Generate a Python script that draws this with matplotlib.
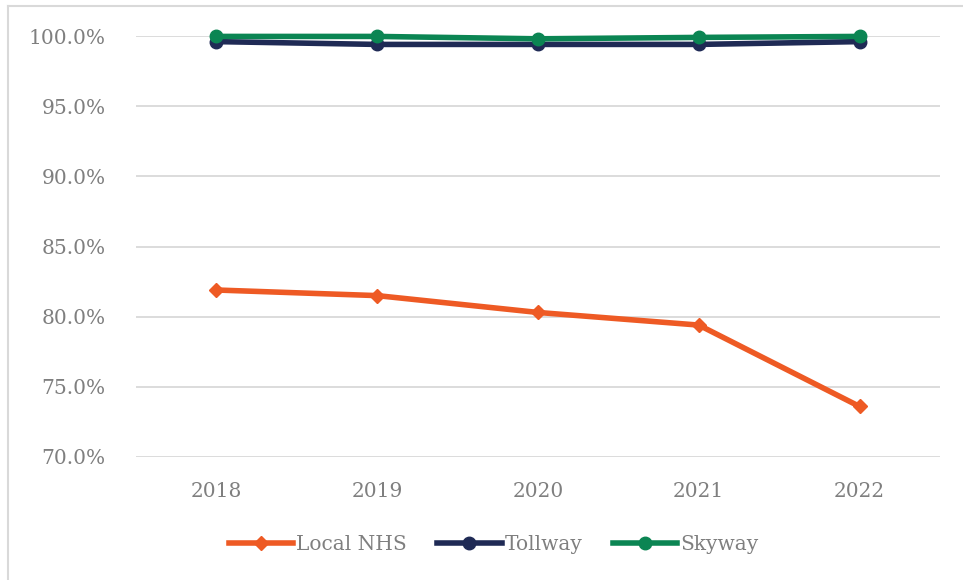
import numpy as np
import matplotlib.pyplot as plt
from matplotlib.lines import Line2D
from matplotlib.ticker import PercentFormatter

years = ['2018', '2019', '2020', '2021', '2022']
local_nhs = [81.9, 81.5, 80.3, 79.4, 73.6]
tollway = [99.6, 99.4, 99.4, 99.4, 99.6]
skyway = [99.97, 99.97, 99.8, 99.9, 99.97]

plt.rcParams['font.family'] = ['DejaVu Serif']

fig = plt.figure(figsize=(9.63, 5.8), dpi=100)
ax = fig.add_axes([136/963, 1-457/580, (940-136)/963, (457-36)/580])

x = np.arange(len(years))
ax.plot(x, local_nhs, '-D', color='#EE5A24', lw=4, ms=7.5, label='Local NHS', clip_on=False, zorder=3)
ax.plot(x, tollway, '-o', color='#1F2A55', lw=4, ms=9, label='Tollway', clip_on=False, zorder=4)
ax.plot(x, skyway, '-o', color='#0B8553', lw=4, ms=9, label='Skyway', clip_on=False, zorder=5)

ax.set_xlim(-0.5, 4.5)
ax.set_ylim(70, 100)
ax.set_yticks(np.arange(70, 100.1, 5))
ax.yaxis.set_major_formatter(PercentFormatter(decimals=1))
ax.set_xticks(x)
ax.set_xticklabels(years)
ax.grid(axis='y', color='#D9D9D9', lw=1.3)
ax.set_axisbelow(True)
for s in ax.spines.values():
    s.set_visible(False)
ax.tick_params(length=0, colors='#7F7F7F', labelsize=14.5)
ax.tick_params(axis='y', pad=22)
ax.tick_params(axis='x', pad=18)

fig.legend(loc='center', bbox_to_anchor=(0.5 + 12/963, 1-545/580), ncol=3, frameon=False,
           fontsize=14.5, handlelength=3.2, handletextpad=0.15, columnspacing=1.5,
           labelcolor='#7F7F7F')

# thin frame round the chart
fig.add_artist(Line2D([8/963, 8/963], [0, 1-6/580], color='#D9D9D9', lw=1.5))
fig.add_artist(Line2D([8/963, 1], [1-6/580, 1-6/580], color='#D9D9D9', lw=1.5))

fig.savefig('out.png', dpi=100)
